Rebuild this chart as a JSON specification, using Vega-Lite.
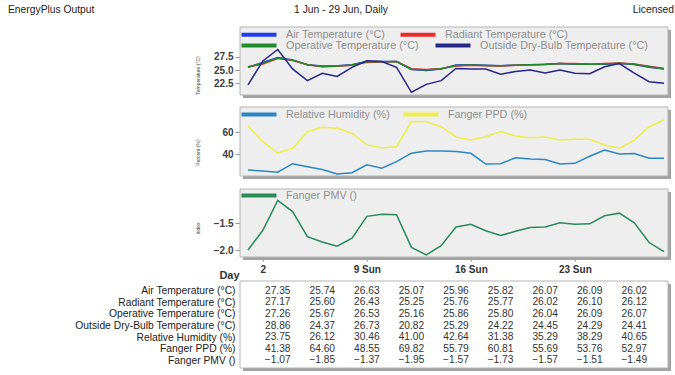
{
  "$schema": "https://vega.github.io/schema/vega-lite/v6.json",
  "width": 428,
  "height": 375,
  "autosize": {"type": "none"},
  "padding": {"left": 240, "top": 0, "right": 7, "bottom": 0},
  "background": "white",
  "config": {
    "view": {"stroke": null},
    "font": "Liberation Sans",
    "axis": {"labelFont": "Liberation Sans", "titleFont": "Liberation Sans", "grid": false, "domain": false},
    "legend": {"labelFont": "Liberation Sans", "orient": "none", "title": null, "labelFontSize": 10.8, "labelColor": "#8f8f8f", "labelOffset": 20, "labelLimit": 300, "padding": 0}
  },
  "datasets": {
    "daily": [
      {"day": 1, "series": "Air Temperature (°C)", "value": 25.5},
      {"day": 2, "series": "Air Temperature (°C)", "value": 26.4},
      {"day": 3, "series": "Air Temperature (°C)", "value": 27.35},
      {"day": 4, "series": "Air Temperature (°C)", "value": 26.9},
      {"day": 5, "series": "Air Temperature (°C)", "value": 26.0},
      {"day": 6, "series": "Air Temperature (°C)", "value": 25.74},
      {"day": 7, "series": "Air Temperature (°C)", "value": 25.8},
      {"day": 8, "series": "Air Temperature (°C)", "value": 26.0},
      {"day": 9, "series": "Air Temperature (°C)", "value": 26.63},
      {"day": 10, "series": "Air Temperature (°C)", "value": 26.6},
      {"day": 11, "series": "Air Temperature (°C)", "value": 26.6},
      {"day": 12, "series": "Air Temperature (°C)", "value": 25.07},
      {"day": 13, "series": "Air Temperature (°C)", "value": 24.9},
      {"day": 14, "series": "Air Temperature (°C)", "value": 25.2},
      {"day": 15, "series": "Air Temperature (°C)", "value": 25.96},
      {"day": 16, "series": "Air Temperature (°C)", "value": 26.0},
      {"day": 17, "series": "Air Temperature (°C)", "value": 25.9},
      {"day": 18, "series": "Air Temperature (°C)", "value": 25.82},
      {"day": 19, "series": "Air Temperature (°C)", "value": 25.9},
      {"day": 20, "series": "Air Temperature (°C)", "value": 26.0},
      {"day": 21, "series": "Air Temperature (°C)", "value": 26.07},
      {"day": 22, "series": "Air Temperature (°C)", "value": 26.2},
      {"day": 23, "series": "Air Temperature (°C)", "value": 26.1},
      {"day": 24, "series": "Air Temperature (°C)", "value": 26.09},
      {"day": 25, "series": "Air Temperature (°C)", "value": 26.1},
      {"day": 26, "series": "Air Temperature (°C)", "value": 26.2},
      {"day": 27, "series": "Air Temperature (°C)", "value": 26.02},
      {"day": 28, "series": "Air Temperature (°C)", "value": 25.5},
      {"day": 29, "series": "Air Temperature (°C)", "value": 25.2},
      {"day": 1, "series": "Radiant Temperature (°C)", "value": 25.6},
      {"day": 2, "series": "Radiant Temperature (°C)", "value": 26.1},
      {"day": 3, "series": "Radiant Temperature (°C)", "value": 27.17},
      {"day": 4, "series": "Radiant Temperature (°C)", "value": 26.8},
      {"day": 5, "series": "Radiant Temperature (°C)", "value": 26.0},
      {"day": 6, "series": "Radiant Temperature (°C)", "value": 25.6},
      {"day": 7, "series": "Radiant Temperature (°C)", "value": 25.7},
      {"day": 8, "series": "Radiant Temperature (°C)", "value": 25.9},
      {"day": 9, "series": "Radiant Temperature (°C)", "value": 26.43},
      {"day": 10, "series": "Radiant Temperature (°C)", "value": 26.5},
      {"day": 11, "series": "Radiant Temperature (°C)", "value": 26.6},
      {"day": 12, "series": "Radiant Temperature (°C)", "value": 25.25},
      {"day": 13, "series": "Radiant Temperature (°C)", "value": 25.1},
      {"day": 14, "series": "Radiant Temperature (°C)", "value": 25.3},
      {"day": 15, "series": "Radiant Temperature (°C)", "value": 25.76},
      {"day": 16, "series": "Radiant Temperature (°C)", "value": 25.9},
      {"day": 17, "series": "Radiant Temperature (°C)", "value": 25.8},
      {"day": 18, "series": "Radiant Temperature (°C)", "value": 25.77},
      {"day": 19, "series": "Radiant Temperature (°C)", "value": 25.9},
      {"day": 20, "series": "Radiant Temperature (°C)", "value": 26.0},
      {"day": 21, "series": "Radiant Temperature (°C)", "value": 26.02},
      {"day": 22, "series": "Radiant Temperature (°C)", "value": 26.2},
      {"day": 23, "series": "Radiant Temperature (°C)", "value": 26.2},
      {"day": 24, "series": "Radiant Temperature (°C)", "value": 26.1},
      {"day": 25, "series": "Radiant Temperature (°C)", "value": 26.2},
      {"day": 26, "series": "Radiant Temperature (°C)", "value": 26.3},
      {"day": 27, "series": "Radiant Temperature (°C)", "value": 26.12},
      {"day": 28, "series": "Radiant Temperature (°C)", "value": 25.7},
      {"day": 29, "series": "Radiant Temperature (°C)", "value": 25.3},
      {"day": 1, "series": "Operative Temperature (°C)", "value": 25.55},
      {"day": 2, "series": "Operative Temperature (°C)", "value": 26.25},
      {"day": 3, "series": "Operative Temperature (°C)", "value": 27.26},
      {"day": 4, "series": "Operative Temperature (°C)", "value": 26.85},
      {"day": 5, "series": "Operative Temperature (°C)", "value": 26.0},
      {"day": 6, "series": "Operative Temperature (°C)", "value": 25.67},
      {"day": 7, "series": "Operative Temperature (°C)", "value": 25.75},
      {"day": 8, "series": "Operative Temperature (°C)", "value": 25.95},
      {"day": 9, "series": "Operative Temperature (°C)", "value": 26.53},
      {"day": 10, "series": "Operative Temperature (°C)", "value": 26.55},
      {"day": 11, "series": "Operative Temperature (°C)", "value": 26.6},
      {"day": 12, "series": "Operative Temperature (°C)", "value": 25.16},
      {"day": 13, "series": "Operative Temperature (°C)", "value": 25.0},
      {"day": 14, "series": "Operative Temperature (°C)", "value": 25.25},
      {"day": 15, "series": "Operative Temperature (°C)", "value": 25.86},
      {"day": 16, "series": "Operative Temperature (°C)", "value": 25.95},
      {"day": 17, "series": "Operative Temperature (°C)", "value": 25.85},
      {"day": 18, "series": "Operative Temperature (°C)", "value": 25.8},
      {"day": 19, "series": "Operative Temperature (°C)", "value": 25.9},
      {"day": 20, "series": "Operative Temperature (°C)", "value": 26.0},
      {"day": 21, "series": "Operative Temperature (°C)", "value": 26.04},
      {"day": 22, "series": "Operative Temperature (°C)", "value": 26.2},
      {"day": 23, "series": "Operative Temperature (°C)", "value": 26.15},
      {"day": 24, "series": "Operative Temperature (°C)", "value": 26.09},
      {"day": 25, "series": "Operative Temperature (°C)", "value": 26.15},
      {"day": 26, "series": "Operative Temperature (°C)", "value": 26.25},
      {"day": 27, "series": "Operative Temperature (°C)", "value": 26.07},
      {"day": 28, "series": "Operative Temperature (°C)", "value": 25.6},
      {"day": 29, "series": "Operative Temperature (°C)", "value": 25.25},
      {"day": 1, "series": "Outside Dry-Bulb Temperature (°C)", "value": 22.2},
      {"day": 2, "series": "Outside Dry-Bulb Temperature (°C)", "value": 26.7},
      {"day": 3, "series": "Outside Dry-Bulb Temperature (°C)", "value": 28.86},
      {"day": 4, "series": "Outside Dry-Bulb Temperature (°C)", "value": 25.2},
      {"day": 5, "series": "Outside Dry-Bulb Temperature (°C)", "value": 23.0},
      {"day": 6, "series": "Outside Dry-Bulb Temperature (°C)", "value": 24.37},
      {"day": 7, "series": "Outside Dry-Bulb Temperature (°C)", "value": 23.8},
      {"day": 8, "series": "Outside Dry-Bulb Temperature (°C)", "value": 25.5},
      {"day": 9, "series": "Outside Dry-Bulb Temperature (°C)", "value": 26.73},
      {"day": 10, "series": "Outside Dry-Bulb Temperature (°C)", "value": 26.6},
      {"day": 11, "series": "Outside Dry-Bulb Temperature (°C)", "value": 25.5},
      {"day": 12, "series": "Outside Dry-Bulb Temperature (°C)", "value": 20.82},
      {"day": 13, "series": "Outside Dry-Bulb Temperature (°C)", "value": 22.3},
      {"day": 14, "series": "Outside Dry-Bulb Temperature (°C)", "value": 23.0},
      {"day": 15, "series": "Outside Dry-Bulb Temperature (°C)", "value": 25.29},
      {"day": 16, "series": "Outside Dry-Bulb Temperature (°C)", "value": 25.2},
      {"day": 17, "series": "Outside Dry-Bulb Temperature (°C)", "value": 25.2},
      {"day": 18, "series": "Outside Dry-Bulb Temperature (°C)", "value": 24.22},
      {"day": 19, "series": "Outside Dry-Bulb Temperature (°C)", "value": 24.7},
      {"day": 20, "series": "Outside Dry-Bulb Temperature (°C)", "value": 25.0},
      {"day": 21, "series": "Outside Dry-Bulb Temperature (°C)", "value": 24.45},
      {"day": 22, "series": "Outside Dry-Bulb Temperature (°C)", "value": 25.0},
      {"day": 23, "series": "Outside Dry-Bulb Temperature (°C)", "value": 24.4},
      {"day": 24, "series": "Outside Dry-Bulb Temperature (°C)", "value": 24.29},
      {"day": 25, "series": "Outside Dry-Bulb Temperature (°C)", "value": 25.6},
      {"day": 26, "series": "Outside Dry-Bulb Temperature (°C)", "value": 26.2},
      {"day": 27, "series": "Outside Dry-Bulb Temperature (°C)", "value": 24.41},
      {"day": 28, "series": "Outside Dry-Bulb Temperature (°C)", "value": 22.8},
      {"day": 29, "series": "Outside Dry-Bulb Temperature (°C)", "value": 22.5},
      {"day": 1, "series": "Relative Humidity (%)", "value": 25.7},
      {"day": 2, "series": "Relative Humidity (%)", "value": 24.8},
      {"day": 3, "series": "Relative Humidity (%)", "value": 23.75},
      {"day": 4, "series": "Relative Humidity (%)", "value": 31.5},
      {"day": 5, "series": "Relative Humidity (%)", "value": 28.8},
      {"day": 6, "series": "Relative Humidity (%)", "value": 26.12},
      {"day": 7, "series": "Relative Humidity (%)", "value": 22.1},
      {"day": 8, "series": "Relative Humidity (%)", "value": 23.3},
      {"day": 9, "series": "Relative Humidity (%)", "value": 30.46},
      {"day": 10, "series": "Relative Humidity (%)", "value": 27.3},
      {"day": 11, "series": "Relative Humidity (%)", "value": 33.3},
      {"day": 12, "series": "Relative Humidity (%)", "value": 41.0},
      {"day": 13, "series": "Relative Humidity (%)", "value": 43.0},
      {"day": 14, "series": "Relative Humidity (%)", "value": 43.0},
      {"day": 15, "series": "Relative Humidity (%)", "value": 42.64},
      {"day": 16, "series": "Relative Humidity (%)", "value": 40.9},
      {"day": 17, "series": "Relative Humidity (%)", "value": 31.2},
      {"day": 18, "series": "Relative Humidity (%)", "value": 31.38},
      {"day": 19, "series": "Relative Humidity (%)", "value": 36.9},
      {"day": 20, "series": "Relative Humidity (%)", "value": 35.7},
      {"day": 21, "series": "Relative Humidity (%)", "value": 35.29},
      {"day": 22, "series": "Relative Humidity (%)", "value": 31.2},
      {"day": 23, "series": "Relative Humidity (%)", "value": 31.8},
      {"day": 24, "series": "Relative Humidity (%)", "value": 38.29},
      {"day": 25, "series": "Relative Humidity (%)", "value": 43.9},
      {"day": 26, "series": "Relative Humidity (%)", "value": 40.3},
      {"day": 27, "series": "Relative Humidity (%)", "value": 40.65},
      {"day": 28, "series": "Relative Humidity (%)", "value": 36.4},
      {"day": 29, "series": "Relative Humidity (%)", "value": 36.4},
      {"day": 1, "series": "Fanger PPD (%)", "value": 66.0},
      {"day": 2, "series": "Fanger PPD (%)", "value": 51.5},
      {"day": 3, "series": "Fanger PPD (%)", "value": 41.38},
      {"day": 4, "series": "Fanger PPD (%)", "value": 45.5},
      {"day": 5, "series": "Fanger PPD (%)", "value": 60.5},
      {"day": 6, "series": "Fanger PPD (%)", "value": 64.6},
      {"day": 7, "series": "Fanger PPD (%)", "value": 63.6},
      {"day": 8, "series": "Fanger PPD (%)", "value": 59.1},
      {"day": 9, "series": "Fanger PPD (%)", "value": 48.55},
      {"day": 10, "series": "Fanger PPD (%)", "value": 46.0},
      {"day": 11, "series": "Fanger PPD (%)", "value": 46.9},
      {"day": 12, "series": "Fanger PPD (%)", "value": 69.82},
      {"day": 13, "series": "Fanger PPD (%)", "value": 69.6},
      {"day": 14, "series": "Fanger PPD (%)", "value": 65.1},
      {"day": 15, "series": "Fanger PPD (%)", "value": 55.79},
      {"day": 16, "series": "Fanger PPD (%)", "value": 53.0},
      {"day": 17, "series": "Fanger PPD (%)", "value": 56.0},
      {"day": 18, "series": "Fanger PPD (%)", "value": 60.81},
      {"day": 19, "series": "Fanger PPD (%)", "value": 56.6},
      {"day": 20, "series": "Fanger PPD (%)", "value": 55.1},
      {"day": 21, "series": "Fanger PPD (%)", "value": 55.69},
      {"day": 22, "series": "Fanger PPD (%)", "value": 53.0},
      {"day": 23, "series": "Fanger PPD (%)", "value": 53.6},
      {"day": 24, "series": "Fanger PPD (%)", "value": 53.76},
      {"day": 25, "series": "Fanger PPD (%)", "value": 48.5},
      {"day": 26, "series": "Fanger PPD (%)", "value": 45.5},
      {"day": 27, "series": "Fanger PPD (%)", "value": 52.97},
      {"day": 28, "series": "Fanger PPD (%)", "value": 65.1},
      {"day": 29, "series": "Fanger PPD (%)", "value": 71.2},
      {"day": 1, "series": "Fanger PMV ()", "value": -2.0},
      {"day": 2, "series": "Fanger PMV ()", "value": -1.63},
      {"day": 3, "series": "Fanger PMV ()", "value": -1.07},
      {"day": 4, "series": "Fanger PMV ()", "value": -1.28},
      {"day": 5, "series": "Fanger PMV ()", "value": -1.75},
      {"day": 6, "series": "Fanger PMV ()", "value": -1.85},
      {"day": 7, "series": "Fanger PMV ()", "value": -1.93},
      {"day": 8, "series": "Fanger PMV ()", "value": -1.78},
      {"day": 9, "series": "Fanger PMV ()", "value": -1.37},
      {"day": 10, "series": "Fanger PMV ()", "value": -1.33},
      {"day": 11, "series": "Fanger PMV ()", "value": -1.34},
      {"day": 12, "series": "Fanger PMV ()", "value": -1.95},
      {"day": 13, "series": "Fanger PMV ()", "value": -2.09},
      {"day": 14, "series": "Fanger PMV ()", "value": -1.92},
      {"day": 15, "series": "Fanger PMV ()", "value": -1.57},
      {"day": 16, "series": "Fanger PMV ()", "value": -1.52},
      {"day": 17, "series": "Fanger PMV ()", "value": -1.64},
      {"day": 18, "series": "Fanger PMV ()", "value": -1.73},
      {"day": 19, "series": "Fanger PMV ()", "value": -1.65},
      {"day": 20, "series": "Fanger PMV ()", "value": -1.58},
      {"day": 21, "series": "Fanger PMV ()", "value": -1.57},
      {"day": 22, "series": "Fanger PMV ()", "value": -1.49},
      {"day": 23, "series": "Fanger PMV ()", "value": -1.52},
      {"day": 24, "series": "Fanger PMV ()", "value": -1.51},
      {"day": 25, "series": "Fanger PMV ()", "value": -1.36},
      {"day": 26, "series": "Fanger PMV ()", "value": -1.31},
      {"day": 27, "series": "Fanger PMV ()", "value": -1.49},
      {"day": 28, "series": "Fanger PMV ()", "value": -1.86},
      {"day": 29, "series": "Fanger PMV ()", "value": -2.03}
    ]
  },
  "resolve": {
    "scale": {"x": "independent", "y": "independent", "color": "independent"},
    "axis": {"x": "independent", "y": "independent"},
    "legend": {"color": "independent"}
  },
  "layer": [
    {
      "data": {"values": [
        {"slot": "left", "label": "EnergyPlus Output"},
        {"slot": "center", "label": "1 Jun - 29 Jun, Daily"},
        {"slot": "right", "label": "Licensed"}
      ]},
      "encoding": {
        "x": {"field": "slot", "type": "nominal", "scale": {"type": "point", "domain": ["left", "center", "right"], "range": [-232, 434], "padding": 0}, "axis": null},
        "y": {"field": "slot", "type": "nominal", "scale": {"type": "point", "range": [10, 10]}, "axis": null},
        "text": {"field": "label"}
      },
      "layer": [
        {"transform": [{"filter": "datum.slot == 'left'"}], "mark": {"type": "text", "align": "left", "baseline": "middle", "fontSize": 10.3, "color": "#222"}},
        {"transform": [{"filter": "datum.slot == 'center'"}], "mark": {"type": "text", "align": "center", "baseline": "middle", "fontSize": 10.3, "color": "#222"}},
        {"transform": [{"filter": "datum.slot == 'right'"}], "mark": {"type": "text", "align": "right", "baseline": "middle", "fontSize": 10.3, "color": "#222"}}
      ]
    },
    {
      "data": {"values": [{}]},
      "encoding": {
        "x": {"datum": 0.4615, "type": "quantitative", "scale": {"domain": [0.4615, 29.27], "nice": false, "zero": false}, "axis": null},
        "x2": {"datum": 29.27},
        "y": {"datum": 20.31, "type": "quantitative", "scale": {"domain": [20.31, 33.07], "range": [95, 27], "nice": false, "zero": false}, "axis": null},
        "y2": {"datum": 33.07}
      },
      "layer": [
        {"mark": {"type": "rect", "fill": "#a2a2a2", "xOffset": 3, "x2Offset": 3, "yOffset": 3, "y2Offset": 3}},
        {"mark": {"type": "rect", "fill": "#eeeeee", "stroke": "#b4b4b4", "strokeWidth": 1}}
      ]
    },
    {
      "data": {"name": "daily"},
      "transform": [{"filter": {"field": "series", "equal": "Air Temperature (°C)"}}],
      "mark": {"type": "line", "strokeWidth": 1.5},
      "encoding": {
        "x": {"field": "day", "type": "quantitative", "scale": {"domain": [0.4615, 29.27], "nice": false, "zero": false}, "axis": null},
        "y": {
          "field": "value", "type": "quantitative",
          "scale": {"domain": [20.31, 33.07], "range": [95, 27], "nice": false, "zero": false},
          "axis": {"orient": "left", "title": "Temperature (°C)", "values": [22.5, 25, 27.5], "format": ".1f", "tickSize": 5, "tickColor": "#999", "labelPadding": 2, "labelFontSize": 10, "labelFontWeight": "bold", "labelColor": "#404040", "titleFontSize": 5, "titleFontWeight": "normal", "titleColor": "#444", "titleX": -40, "titleY": 75}
        },
        "color": {"field": "series", "type": "nominal", "scale": {"range": ["#1e3cf0"]}, "legend": {"legendX": 12, "legendY": 27.7, "symbolType": "M-3.5,0H3.5", "symbolStrokeWidth": 4, "symbolSize": 100}}
      }
    },
    {
      "data": {"name": "daily"},
      "transform": [{"filter": {"field": "series", "equal": "Radiant Temperature (°C)"}}],
      "mark": {"type": "line", "strokeWidth": 1.5},
      "encoding": {
        "x": {"field": "day", "type": "quantitative", "scale": {"domain": [0.4615, 29.27], "nice": false, "zero": false}, "axis": null},
        "y": {"field": "value", "type": "quantitative", "scale": {"domain": [20.31, 33.07], "range": [95, 27], "nice": false, "zero": false}, "axis": null},
        "color": {"field": "series", "type": "nominal", "scale": {"range": ["#ee2b2b"]}, "legend": {"legendX": 171, "legendY": 27.7, "symbolType": "M-3.5,0H3.5", "symbolStrokeWidth": 4, "symbolSize": 100}}
      }
    },
    {
      "data": {"name": "daily"},
      "transform": [{"filter": {"field": "series", "equal": "Operative Temperature (°C)"}}],
      "mark": {"type": "line", "strokeWidth": 1.5},
      "encoding": {
        "x": {"field": "day", "type": "quantitative", "scale": {"domain": [0.4615, 29.27], "nice": false, "zero": false}, "axis": null},
        "y": {"field": "value", "type": "quantitative", "scale": {"domain": [20.31, 33.07], "range": [95, 27], "nice": false, "zero": false}, "axis": null},
        "color": {"field": "series", "type": "nominal", "scale": {"range": ["#1f8a2e"]}, "legend": {"legendX": 12, "legendY": 38.5, "symbolType": "M-3.5,0H3.5", "symbolStrokeWidth": 4, "symbolSize": 100}}
      }
    },
    {
      "data": {"name": "daily"},
      "transform": [{"filter": {"field": "series", "equal": "Outside Dry-Bulb Temperature (°C)"}}],
      "mark": {"type": "line", "strokeWidth": 1.5},
      "encoding": {
        "x": {"field": "day", "type": "quantitative", "scale": {"domain": [0.4615, 29.27], "nice": false, "zero": false}, "axis": null},
        "y": {"field": "value", "type": "quantitative", "scale": {"domain": [20.31, 33.07], "range": [95, 27], "nice": false, "zero": false}, "axis": null},
        "color": {"field": "series", "type": "nominal", "scale": {"range": ["#262688"]}, "legend": {"legendX": 206, "legendY": 38.5, "symbolType": "M-3.5,0H3.5", "symbolStrokeWidth": 4, "symbolSize": 100}}
      }
    },
    {
      "data": {"values": [{}]},
      "encoding": {
        "x": {"datum": 0.4615, "type": "quantitative", "scale": {"domain": [0.4615, 29.27], "nice": false, "zero": false}, "axis": null},
        "x2": {"datum": 29.27},
        "y": {"datum": 20.3, "type": "quantitative", "scale": {"domain": [20.3, 83.0], "range": [176, 107], "nice": false, "zero": false}, "axis": null},
        "y2": {"datum": 83.0}
      },
      "layer": [
        {"mark": {"type": "rect", "fill": "#a2a2a2", "xOffset": 3, "x2Offset": 3, "yOffset": 3, "y2Offset": 3}},
        {"mark": {"type": "rect", "fill": "#eeeeee", "stroke": "#b4b4b4", "strokeWidth": 1}}
      ]
    },
    {
      "data": {"name": "daily"},
      "transform": [{"filter": {"field": "series", "equal": "Relative Humidity (%)"}}],
      "mark": {"type": "line", "strokeWidth": 1.5},
      "encoding": {
        "x": {"field": "day", "type": "quantitative", "scale": {"domain": [0.4615, 29.27], "nice": false, "zero": false}, "axis": null},
        "y": {
          "field": "value", "type": "quantitative",
          "scale": {"domain": [20.3, 83.0], "range": [176, 107], "nice": false, "zero": false},
          "axis": {"orient": "left", "title": "Percent (%)", "values": [40, 60], "format": "d", "tickSize": 5, "tickColor": "#999", "labelPadding": 2, "labelFontSize": 10, "labelFontWeight": "bold", "labelColor": "#404040", "titleFontSize": 5, "titleFontWeight": "normal", "titleColor": "#444", "titleX": -40, "titleY": 152}
        },
        "color": {"field": "series", "type": "nominal", "scale": {"range": ["#2b87c4"]}, "legend": {"legendX": 12, "legendY": 107.5, "symbolType": "M-3.5,0H3.5", "symbolStrokeWidth": 4, "symbolSize": 100}}
      }
    },
    {
      "data": {"name": "daily"},
      "transform": [{"filter": {"field": "series", "equal": "Fanger PPD (%)"}}],
      "mark": {"type": "line", "strokeWidth": 1.5},
      "encoding": {
        "x": {"field": "day", "type": "quantitative", "scale": {"domain": [0.4615, 29.27], "nice": false, "zero": false}, "axis": null},
        "y": {"field": "value", "type": "quantitative", "scale": {"domain": [20.3, 83.0], "range": [176, 107], "nice": false, "zero": false}, "axis": null},
        "color": {"field": "series", "type": "nominal", "scale": {"range": ["#eeee4a"]}, "legend": {"legendX": 174, "legendY": 107.5, "symbolType": "M-3.5,0H3.5", "symbolStrokeWidth": 4, "symbolSize": 100}}
      }
    },
    {
      "data": {"values": [{}]},
      "encoding": {
        "x": {"datum": 0.4615, "type": "quantitative", "scale": {"domain": [0.4615, 29.27], "nice": false, "zero": false}, "axis": null},
        "x2": {"datum": 29.27},
        "y": {"datum": -2.131, "type": "quantitative", "scale": {"domain": [-2.131, -0.858], "range": [257, 189], "nice": false, "zero": false}, "axis": null},
        "y2": {"datum": -0.858}
      },
      "layer": [
        {"mark": {"type": "rect", "fill": "#a2a2a2", "xOffset": 3, "x2Offset": 3, "yOffset": 3, "y2Offset": 3}},
        {"mark": {"type": "rect", "fill": "#eeeeee", "stroke": "#b4b4b4", "strokeWidth": 1}}
      ]
    },
    {
      "data": {"name": "daily"},
      "transform": [{"filter": {"field": "series", "equal": "Fanger PMV ()"}}],
      "mark": {"type": "line", "strokeWidth": 1.5},
      "encoding": {
        "x": {
          "field": "day", "type": "quantitative",
          "scale": {"domain": [0.4615, 29.27], "nice": false, "zero": false},
          "axis": {"orient": "bottom", "offset": -118, "values": [2, 9, 16, 23], "labelExpr": "datum.value == 2 ? '2' : datum.value + ' Sun'", "tickSize": 4, "tickColor": "#999", "labelPadding": 3, "labelFontSize": 10, "labelFontWeight": "bold", "labelColor": "#333", "title": "Day", "titleFontSize": 11, "titleFontWeight": "bold", "titleColor": "#333", "titleX": -11, "titleY": 18, "titleAlign": "center", "titleBaseline": "middle"}
        },
        "y": {
          "field": "value", "type": "quantitative",
          "scale": {"domain": [-2.131, -0.858], "range": [257, 189], "nice": false, "zero": false},
          "axis": {"orient": "left", "title": "Index", "values": [-2, -1.5], "format": ".1f", "tickSize": 5, "tickColor": "#999", "labelPadding": 2, "labelFontSize": 10, "labelFontWeight": "bold", "labelColor": "#404040", "titleFontSize": 5, "titleFontWeight": "normal", "titleColor": "#444", "titleX": -40, "titleY": 228}
        },
        "color": {"field": "series", "type": "nominal", "scale": {"range": ["#2a8a58"]}, "legend": {"legendX": 12, "legendY": 188.5, "symbolType": "M-3.5,0H3.5", "symbolStrokeWidth": 4, "symbolSize": 100}}
      }
    },
    {
      "data": {"values": [{}]},
      "encoding": {
        "x": {"datum": 0.4615, "type": "quantitative", "scale": {"domain": [0.4615, 29.27], "nice": false, "zero": false}, "axis": null},
        "x2": {"datum": 29.27},
        "y": {"datum": 0, "type": "quantitative", "scale": {"domain": [0, 1], "range": [368, 281], "nice": false, "zero": false}, "axis": null},
        "y2": {"datum": 1}
      },
      "layer": [
        {"mark": {"type": "rect", "fill": "#a2a2a2", "xOffset": 3, "x2Offset": 3, "yOffset": 3, "y2Offset": 3}},
        {"mark": {"type": "rect", "fill": "#ffffff", "stroke": "#b4b4b4", "strokeWidth": 1}}
      ]
    },
    {
      "data": {"name": "daily"},
      "transform": [{"filter": {"field": "day", "oneOf": [3, 6, 9, 12, 15, 18, 21, 24, 27]}}],
      "mark": {"type": "text", "fontSize": 10.2, "color": "#333"},
      "encoding": {
        "x": {"field": "day", "type": "quantitative", "scale": {"domain": [0.4615, 29.27], "nice": false, "zero": false}, "axis": null},
        "y": {
          "field": "series", "type": "nominal",
          "scale": {"domain": ["Air Temperature (°C)", "Radiant Temperature (°C)", "Operative Temperature (°C)", "Outside Dry-Bulb Temperature (°C)", "Relative Humidity (%)", "Fanger PPD (%)", "Fanger PMV ()"], "range": [282, 369], "padding": 0.74},
          "axis": {"orient": "left", "title": null, "ticks": false, "tickSize": 0, "labelPadding": 5, "labelFontSize": 10.3, "labelColor": "#222", "labelLimit": 300}
        },
        "text": {"field": "value", "type": "quantitative", "format": ".2f"}
      }
    }
  ]
}
